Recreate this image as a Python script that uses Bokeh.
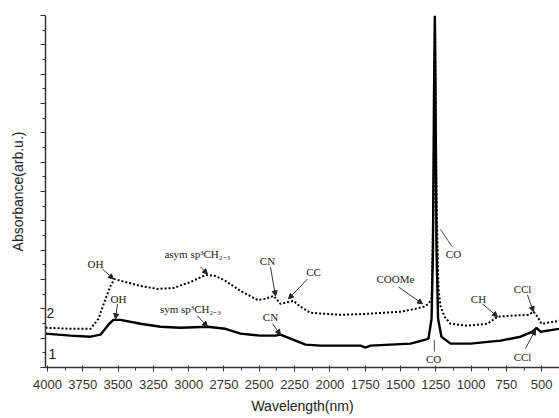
from bokeh.plotting import figure
from bokeh.models import Range1d, FixedTicker, Arrow, NormalHead, ColumnDataSource
from bokeh.embed import file_html
from bokeh.resources import INLINE
from bokeh.core.properties import value

# Curve 1 (solid)
wn1 = [4014, 3837, 3695, 3625, 3568, 3533, 3483, 3341, 3200, 3058, 2867, 2740, 2633, 2492, 2385, 2350,
       2279, 2173, 2067, 1925, 1783, 1748, 1713, 1571, 1429, 1323, 1302, 1280, 1270, 1263, 1257, 1252,
       1245, 1234, 1210, 1146, 1005, 792, 650, 565, 537, 509, 374]
ab1 = [2.31, 2.17, 2.10, 2.24, 2.92, 3.25, 3.25, 2.98, 2.78, 2.71, 2.78, 2.64, 2.31, 2.17, 2.17, 2.24,
       1.97, 1.56, 1.49, 1.49, 1.49, 1.36, 1.49, 1.56, 1.63, 1.90, 1.97, 3.32, 8.07, 18.24, 24.0, 18.24,
       8.07, 3.32, 2.10, 1.63, 1.63, 1.83, 2.10, 2.44, 2.71, 2.44, 2.64]

# Curve 2 (dotted)
wn2 = [4014, 3837, 3695, 3639, 3589, 3554, 3526, 3448, 3341, 3221, 3108, 2987, 2881, 2810, 2739, 2633,
       2513, 2456, 2399, 2350, 2258, 2208, 2137, 1925, 1734, 1500, 1394, 1337, 1302, 1280, 1266, 1255,
       1245, 1231, 1217, 1188, 1146, 1026, 884, 813, 721, 594, 558, 530, 502, 374]
ab2 = [2.71, 2.64, 2.64, 3.32, 4.68, 5.56, 6.03, 5.83, 5.56, 5.36, 5.42, 5.83, 6.31, 6.24, 5.90, 5.22,
       4.61, 4.68, 4.88, 4.34, 4.54, 4.14, 3.73, 3.59, 3.66, 3.80, 4.00, 4.14, 4.34, 4.68, 11.46, 23.66,
       11.46, 5.36, 4.20, 3.46, 2.98, 2.85, 2.98, 3.46, 3.53, 3.59, 3.80, 3.46, 2.98, 3.19]

x_ticks = [4000, 3750, 3500, 3250, 3000, 2750, 2500, 2250, 2000, 1750, 1500, 1250, 1000, 750, 500]
x_minor = [3875, 3625, 3375, 3125, 2875, 2625, 2375, 2125, 1875, 1625, 1375, 1125, 875, 625]
y_ticks = [0, 2, 4, 6, 8, 10, 12, 14, 16, 18, 20, 22, 24]
y_minor = [1, 3, 5, 7, 9, 11, 13, 15, 17, 19, 21, 23]

# Peak labels
lab_text = ["OH", "asym sp³CH₂₋₃", "CN", "CC", "OH", "sym sp³CH₂₋₃", "CN", "COOMe", "CO", "CH",
            "CCl", "CO", "CCl"]
lab_wn = [3660, 2938, 2442, 2116, 3497, 2987, 2421, 1536, 1125, 948, 636, 1266, 636]
lab_ab = [7.05, 7.73, 7.25, 6.51, 4.68, 4.00, 3.46, 6.03, 7.73, 4.68, 5.36, 0.61, 0.75]

# Pointer lines: start -> end
ptr_wn0 = [3610, 2916, 2421, 2159, 3504, 2938, 2407, 1514, 919, 601, 615]
ptr_ab0 = [6.71, 6.85, 6.85, 6.03, 4.34, 3.53, 2.98, 5.49, 4.34, 4.95, 1.29]
ptr_wn1 = [3533, 2867, 2385, 2293, 3518, 2867, 2350, 1344, 813, 558, 544]
ptr_ab1 = [6.03, 6.37, 4.88, 4.68, 3.32, 2.78, 2.24, 4.34, 3.46, 3.80, 2.58]
# plain lines (no head)
line_wn0 = [1217, 1260]
line_ab0 = [9.42, 1.90]
line_wn1 = [1132, 1260]
line_ab1 = [8.20, 1.08]

curve_names = ["2", "1"]
curve_wn = [3979, 3965]
curve_ab = [3.73, 0.95]

p = figure(width=559, height=416, output_backend="svg", toolbar_location=None,
           x_range=Range1d(4014, 374), y_range=Range1d(0, 24),
           min_border_left=45, min_border_right=0, min_border_top=15, min_border_bottom=10)
p.outline_line_color = None
p.grid.visible = False
p.background_fill_color = "white"

p.line(wn1, ab1, line_color="black", line_width=2.4)
p.line(wn2, ab2, line_color="black", line_width=2.0, line_dash="2 2")

src = ColumnDataSource(dict(x0=ptr_wn0, y0=ptr_ab0, x1=ptr_wn1, y1=ptr_ab1))
p.add_layout(Arrow(end=NormalHead(size=5, fill_color="#222", line_color="#222"),
                   x_start="x0", y_start="y0", x_end="x1", y_end="y1", source=src,
                   line_color="#333", line_width=1))
p.segment(line_wn0, line_ab0, line_wn1, line_ab1, line_color="#555", line_width=1)

p.text(lab_wn, lab_ab, text=lab_text, text_font=value("Liberation Serif"), text_font_size="11px",
       text_color="#222", text_align="center", text_baseline="middle")
p.text(curve_wn, curve_ab, text=curve_names, text_font=value("Liberation Sans"), text_font_size="14px",
       text_color="#222", text_align="center", text_baseline="middle")

xa = p.xaxis[0]
xa.ticker = FixedTicker(ticks=x_ticks, minor_ticks=x_minor)
xa.axis_label = "Wavelength(nm)"
xa.axis_label_text_font = "Liberation Sans"
xa.axis_label_text_font_style = "normal"
xa.axis_label_text_font_size = "14px"
xa.axis_label_text_color = "#222"
xa.axis_label_standoff = 6
xa.major_label_text_font = "Liberation Sans"
xa.major_label_text_font_size = "13px"
xa.major_label_text_color = "#333"
xa.major_label_standoff = 8
xa.major_tick_out = 4
xa.major_tick_in = 2
xa.minor_tick_out = 3
xa.minor_tick_in = 0
xa.axis_line_width = 1.5
xa.axis_line_color = "#333"
xa.major_tick_line_color = "#333"
xa.minor_tick_line_color = "#333"

ya = p.yaxis[0]
ya.ticker = FixedTicker(ticks=y_ticks, minor_ticks=y_minor)
ya.major_label_text_font_size = "0px"
ya.major_label_text_color = None
ya.axis_label = "Absorbance(arb.u.)"
ya.axis_label_text_font = "Liberation Sans"
ya.axis_label_text_font_style = "normal"
ya.axis_label_text_font_size = "14px"
ya.axis_label_text_color = "#222"
ya.axis_label_standoff = 15
ya.major_tick_out = 5
ya.major_tick_in = 0
ya.minor_tick_out = 3
ya.minor_tick_in = 0
ya.axis_line_width = 1.5
ya.axis_line_color = "#333"
ya.major_tick_line_color = "#333"
ya.minor_tick_line_color = "#333"

open("out.html", "w").write(file_html(p, INLINE))
